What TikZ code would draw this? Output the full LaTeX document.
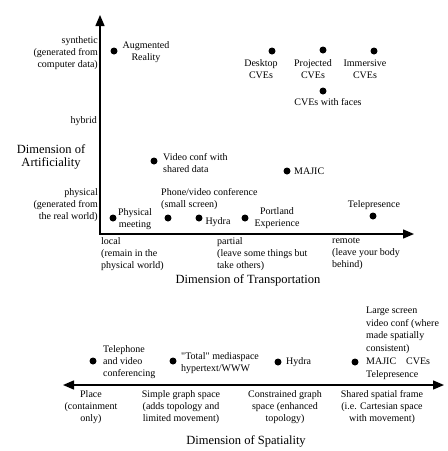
\documentclass[tikz,border=0pt]{standalone}
\usepackage{fontspec}
\setmainfont{Liberation Serif}[Ligatures=TeXOff]
\usetikzlibrary{arrows.meta}
\begin{document}
\begin{tikzpicture}[x=1pt,y=-1pt,
  dot/.style={circle,fill=black,inner sep=0pt,minimum size=7pt},
  lbl/.style={font=\fontsize{10}{12}\selectfont,inner sep=0pt},
  title/.style={font=\fontsize{12.5}{13.5}\selectfont,inner sep=0pt,align=center},
  axis/.style={line width=1.4pt,{Triangle[length=11pt,width=9pt]}-{Triangle[length=11pt,width=9pt]}}]
\useasboundingbox (0,0) rectangle (448,451);
% axes
\coordinate (ytop) at (100,15);
\coordinate (origin) at (100,234);
\coordinate (xright) at (414,234);
\draw[axis] (ytop) -- (origin) -- (xright);
\coordinate (sleft) at (63,385);
\coordinate (sright) at (444,385);
\draw[axis] (sleft) -- (sright);
% vertical axis labels
\node[lbl,anchor=east,align=right] (synth) at (98,53) {synthetic\\(generated from\\computer data)};
\node[lbl,anchor=east] (hybrid) at (97,121) {hybrid};
\node[title] (dimA) at (51,157) {Dimension of\\Artificiality};
\node[lbl,anchor=east,align=right] (phys) at (98,205) {physical\\(generated from\\the real world)};
% points
\node[dot] (arD) at (114,51) {};
\node[lbl,align=center] (arT) at (146,52.5) {Augmented\\Reality};
\node[dot] (deskD) at (272,51) {};
\node[lbl,align=center] (deskT) at (261,69) {Desktop\\CVEs};
\node[dot] (projD) at (323,50) {};
\node[lbl,align=center] (projT) at (313,69) {Projected\\CVEs};
\node[dot] (immD) at (374,51) {};
\node[lbl,align=center] (immT) at (365,69) {Immersive\\CVEs};
\node[dot] (facesD) at (323,91) {};
\node[lbl] (facesT) at (328,102.5) {CVEs with faces};
\node[dot] (vcD) at (154,161) {};
\node[lbl,anchor=west,align=left] (vcT) at (163,163) {Video conf with\\shared data};
\node[dot] (majD) at (287,171) {};
\node[lbl,anchor=west] (majT) at (294,171) {MAJIC};
\node[lbl,anchor=west,align=left] (pvT) at (161,199) {Phone/video conference\\(small screen)};
\node[dot] (pvD) at (168,218) {};
\node[dot] (hyD) at (199,218) {};
\node[lbl] (hyT) at (218,222.5) {Hydra};
\node[dot] (pmD) at (113,218) {};
\node[lbl,align=center] (pmT) at (135,219.5) {Physical\\meeting};
\node[dot] (poD) at (245,218) {};
\node[lbl,align=center] (poT) at (277,218.5) {Portland\\Experience};
\node[dot] (teD) at (373,216) {};
\node[lbl] (teT) at (374,205) {Telepresence};
% horizontal axis labels
\node[lbl,anchor=west,align=left] (local) at (101,254) {local\\(remain in the\\physical world)};
\node[lbl,anchor=west,align=left] (partial) at (217,254) {partial\\(leave some things but\\take others)};
\node[lbl,anchor=west,align=left] (remote) at (332,254) {remote\\(leave your body\\behind)};
\node[title] (dimT) at (248,280) {Dimension of Transportation};
% spatiality
\node[dot] (telD) at (93,361) {};
\node[lbl,anchor=west,align=left] (telT) at (103,362) {Telephone\\and video\\conferencing};
\node[dot] (totD) at (173,361) {};
\node[lbl,anchor=west,align=left] (totT) at (181,363) {"Total" mediaspace\\hypertext/WWW};
\node[dot] (hy2D) at (278,362) {};
\node[lbl,anchor=west] (hy2T) at (286,362) {Hydra};
\node[dot] (lsD) at (355,362) {};
\node[lbl,anchor=west,align=left,font=\fontsize{10}{12.8}\selectfont] (lsT) at (366,343) {Large screen\\video conf (where\\made spatially\\consistent)\\MAJIC\quad CVEs\\Telepresence};
\node[lbl,align=center] (place) at (91,407) {Place\\(containment\\only)};
\node[lbl,align=center] (simple) at (181,407) {Simple graph space\\(adds topology and\\limited movement)};
\node[lbl,align=center] (constr) at (285,407) {Constrained graph\\space (enhanced\\topology)};
\node[lbl,align=center] (shared) at (382,407) {Shared spatial frame\\(i.e. Cartesian space\\with movement)};
\node[title] (dimS) at (246,441) {Dimension of Spatiality};
\end{tikzpicture}
\end{document}
